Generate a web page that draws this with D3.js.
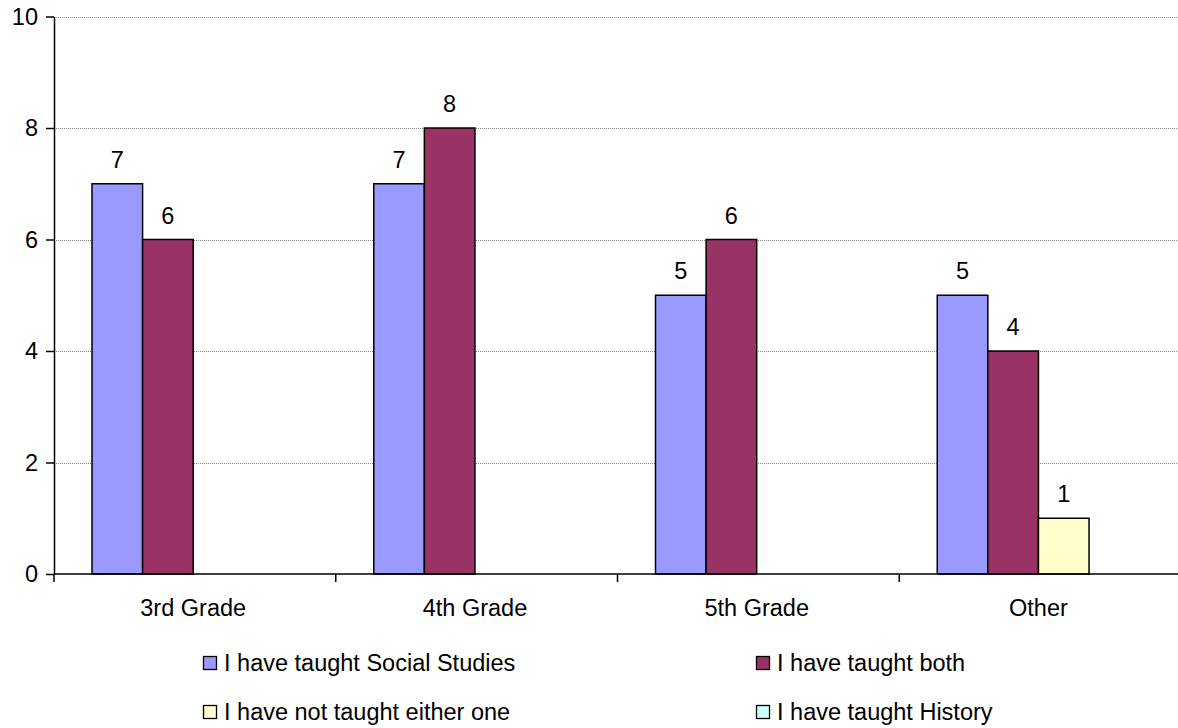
<!DOCTYPE html>
<html>
<head>
<meta charset="utf-8">
<script src="https://cdn.jsdelivr.net/npm/d3@7"></script>
<style>
  html, body { margin: 0; padding: 0; background: #fff; }
  svg { display: block; font-family: "Liberation Sans", Arial, sans-serif; }
</style>
</head>
<body>
<svg id="chart" width="1178" height="728"></svg>
<script>
// Survey responses by grade taught
const categories = ["3rd Grade", "4th Grade", "5th Grade", "Other"];
const seriesNames = [
  "I have taught Social Studies",
  "I have taught both",
  "I have not taught either one",
  "I have taught History"
];
const socialStudies = [7, 7, 5, 5];
const both = [6, 8, 6, 4];
const neither = [0, 0, 0, 1];
const history = [0, 0, 0, 0];
const yTicks = [0, 2, 4, 6, 8, 10];
const colors = ["#9999FF", "#993366", "#FFFFCC", "#CCFFFF"];

const seriesValues = [socialStudies, both, neither, history];

const svg = d3.select("#chart");
const plotLeft = 54, plotRight = 1181, plotTop = 16.5, plotBottom = 574;
const fontSize = 23.5;

const x0 = d3.scaleBand().domain(categories).range([plotLeft, plotRight]).padding(0);
const x1 = d3.scaleBand().domain(d3.range(seriesNames.length))
  .range([38, 38 + 4 * 50.6]);
const y = d3.scaleLinear().domain([0, 10]).range([plotBottom, plotTop]);

// horizontal gridlines
svg.append("g").selectAll("line").data(yTicks.filter(d => d > 0)).join("line")
  .attr("x1", plotLeft).attr("x2", 1178)
  .attr("y1", d => Math.round(y(d)) + 0.5).attr("y2", d => Math.round(y(d)) + 0.5)
  .attr("stroke", "#888").attr("stroke-width", 1).attr("stroke-dasharray", "1,1");

// bars
const groups = svg.append("g").selectAll("g").data(categories).join("g")
  .attr("transform", c => `translate(${x0(c)},0)`);

groups.each(function(c, ci) {
  const g = d3.select(this);
  seriesValues.forEach((vals, si) => {
    const v = vals[ci];
    if (v <= 0) return;
    g.append("rect")
      .attr("x", x1(si))
      .attr("y", y(v))
      .attr("width", x1.bandwidth())
      .attr("height", y(0) - y(v))
      .attr("fill", colors[si])
      .attr("stroke", "#000")
      .attr("stroke-width", 1.5);
    g.append("text")
      .attr("x", x1(si) + x1.bandwidth() / 2)
      .attr("y", y(v) - 16)
      .attr("text-anchor", "middle")
      .attr("font-size", fontSize)
      .attr("fill", "#000")
      .text(v);
  });
});

// y axis
const yAxis = d3.axisLeft(y).tickValues(yTicks).tickSize(8).tickPadding(8).tickSizeOuter(0);
const yg = svg.append("g").attr("transform", `translate(${plotLeft},0)`).call(yAxis);
yg.select(".domain").attr("stroke", "#000").attr("stroke-width", 1.5);
yg.selectAll(".tick line").attr("stroke", "#000").attr("stroke-width", 1.5);
yg.selectAll(".tick text").attr("font-size", fontSize).attr("fill", "#000")
  .attr("font-family", "Liberation Sans, Arial, sans-serif");

// x axis
const xg = svg.append("g").attr("transform", `translate(0,${plotBottom})`);
xg.append("line").attr("x1", plotLeft).attr("x2", 1178).attr("y1", 0).attr("y2", 0)
  .attr("stroke", "#000").attr("stroke-width", 1.5);
const tickXs = categories.map(c => x0(c));
xg.selectAll("line.tk").data(tickXs).join("line").attr("class", "tk")
  .attr("x1", d => d).attr("x2", d => d).attr("y1", 0).attr("y2", 8)
  .attr("stroke", "#000").attr("stroke-width", 1.5);
xg.selectAll("text").data(categories).join("text")
  .attr("x", c => x0(c) + 38 + 2 * 50.6)
  .attr("y", 42)
  .attr("text-anchor", "middle")
  .attr("font-size", fontSize)
  .attr("fill", "#000")
  .text(c => c);

// legend
const legendPos = [[203, 663], [756, 663], [203, 712], [756, 712]];
const legend = svg.append("g").selectAll("g").data(seriesNames).join("g")
  .attr("transform", (d, i) => `translate(${legendPos[i][0]},${legendPos[i][1]})`);
legend.append("rect")
  .attr("x", 0.5).attr("y", -6.5).attr("width", 13).attr("height", 13)
  .attr("fill", (d, i) => colors[i]).attr("stroke", "#000").attr("stroke-width", 1.3);
legend.append("text")
  .attr("x", 21).attr("y", 8)
  .attr("font-size", fontSize).attr("fill", "#000")
  .text(d => d);
</script>
</body>
</html>
